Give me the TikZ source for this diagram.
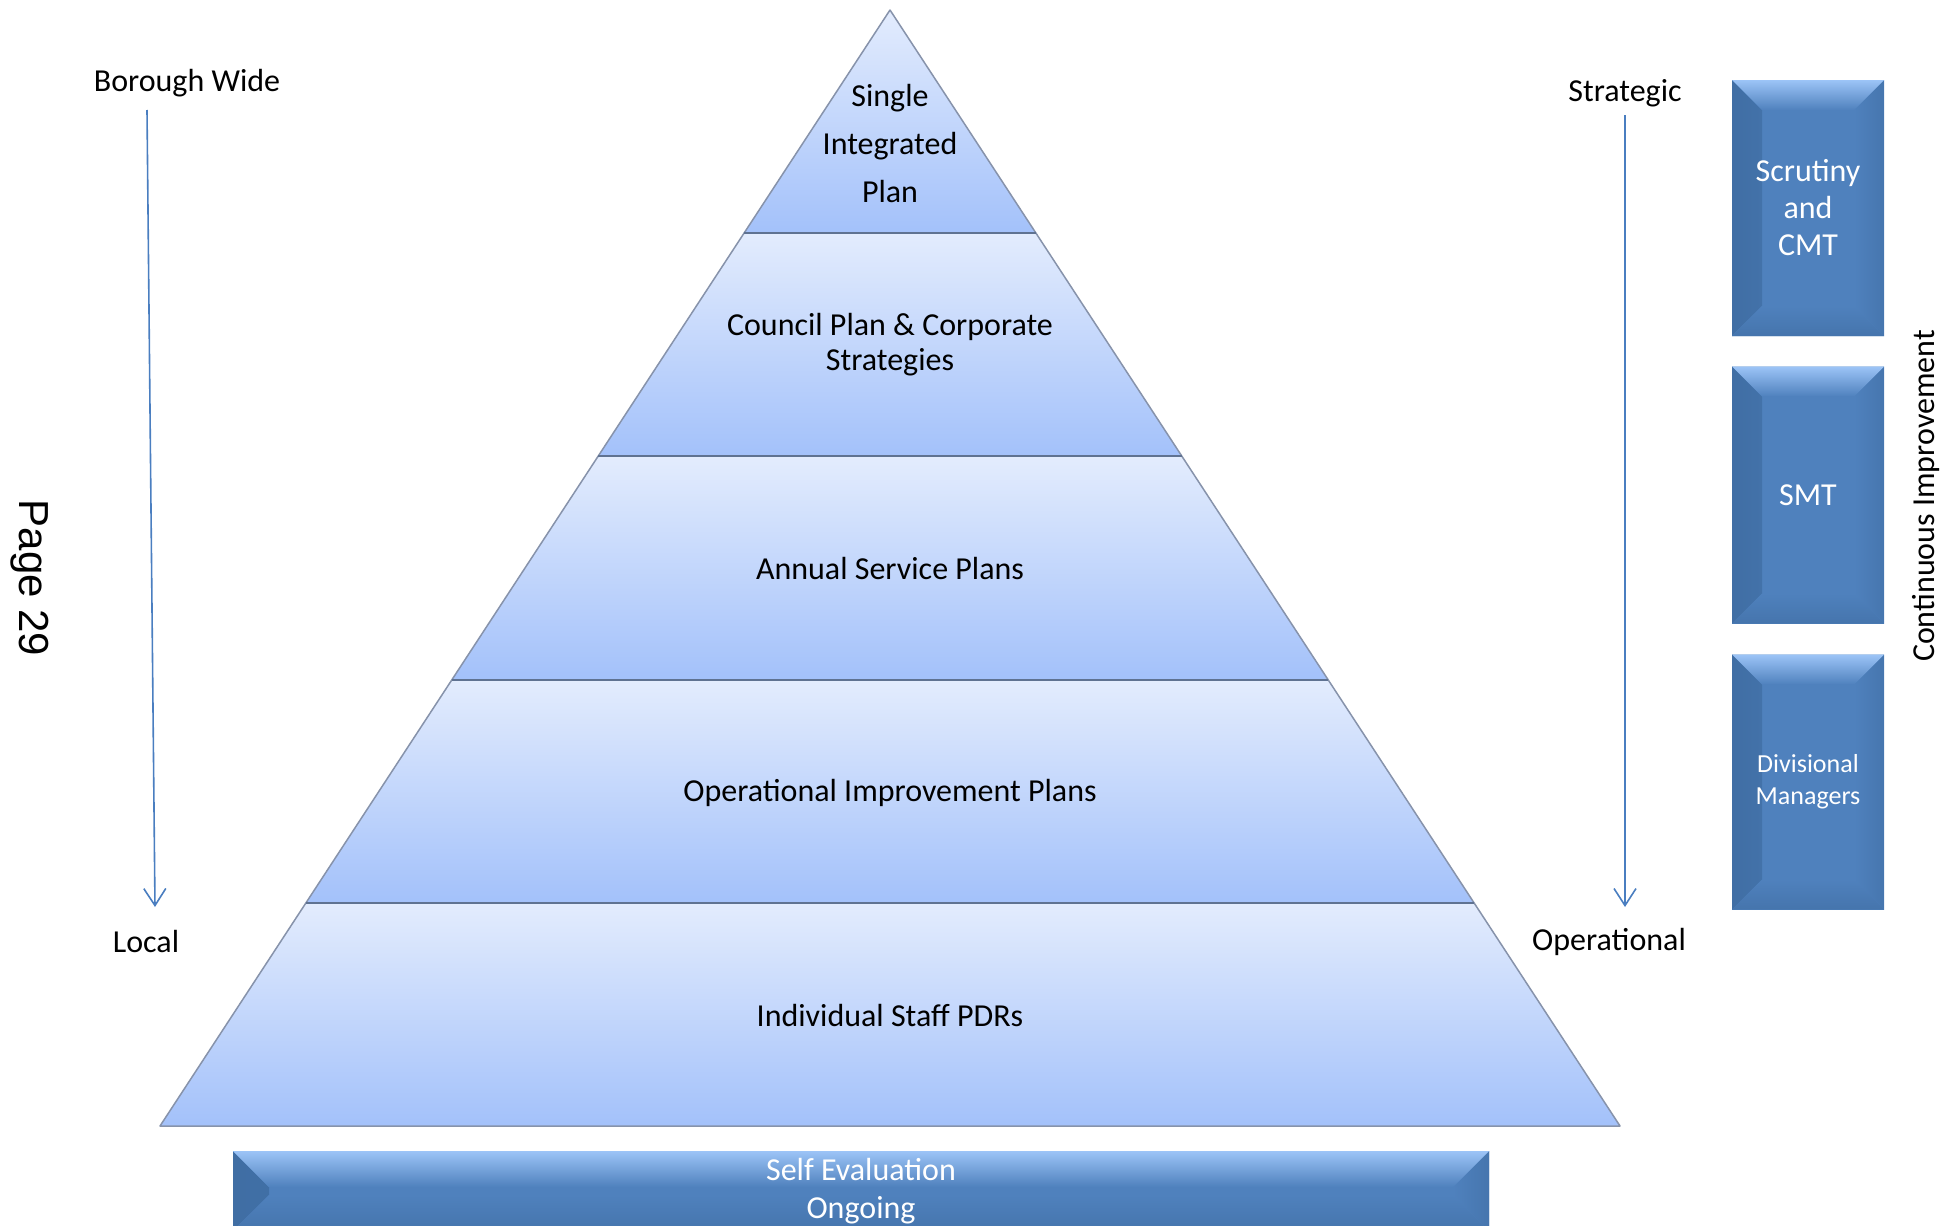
\documentclass[tikz,border=0pt]{standalone}
\usepackage{fontspec}
\setmainfont{Carlito}
\newfontfamily\pagefont{Liberation Sans}
\usetikzlibrary{
	arrows.meta,
	calc,
	}

\definecolor{bandtop}{HTML}{E3ECFD}
\definecolor{bandbottom}{HTML}{A3C1FA}
\definecolor{bandline}{HTML}{8793AB}
\definecolor{sepline}{HTML}{5F7291}
\definecolor{boxblue}{HTML}{4F81BD}
\definecolor{boxlight}{HTML}{9CC4F7}
\definecolor{boxdark}{HTML}{3B689C}
\definecolor{arrowblue}{HTML}{4A7EC0}

\tikzset{
	band/.style={top color=bandtop, bottom color=bandbottom},
	bandtext/.style={align=center, inner sep=0pt, font=\fontsize{32}{35}\selectfont},
	sidetext/.style={inner sep=0pt, font=\fontsize{32}{38}\selectfont},
	flowarrow/.style={draw=arrowblue, line width=1.6pt,
		-{Straight Barb[length=17pt, width=22pt, line width=1.6pt]}},
	bevelbox/.style={fill=boxblue, text=white, align=center, inner sep=0pt,
		font=\fontsize{32}{37}\selectfont,
		path picture={
			\fill[left color=boxdark!75!boxblue, right color=boxblue]
				(path picture bounding box.north west)
				-- ([shift={(#1pt,-#1pt)}]path picture bounding box.north west)
				-- ([shift={(#1pt,#1pt)}]path picture bounding box.south west)
				-- (path picture bounding box.south west) -- cycle;
			\fill[left color=boxblue, right color=boxdark!45!boxblue]
				(path picture bounding box.north east)
				-- ([shift={(-#1pt,-#1pt)}]path picture bounding box.north east)
				-- ([shift={(-#1pt,#1pt)}]path picture bounding box.south east)
				-- (path picture bounding box.south east) -- cycle;
			\fill[top color=boxlight, bottom color=boxblue]
				(path picture bounding box.north west)
				-- (path picture bounding box.north east)
				-- ([shift={(-#1pt,-#1pt)}]path picture bounding box.north east)
				-- ([shift={(#1pt,-#1pt)}]path picture bounding box.north west) -- cycle;
			\fill[top color=boxblue, bottom color=boxdark!50!boxblue]
				(path picture bounding box.south west)
				-- (path picture bounding box.south east)
				-- ([shift={(-#1pt,#1pt)}]path picture bounding box.south east)
				-- ([shift={(#1pt,#1pt)}]path picture bounding box.south west) -- cycle;
		}},
	bevelbox/.default=30,
}

\begin{document}
\begin{tikzpicture}[x=1pt, y=-1pt]
	\useasboundingbox (0,0) rectangle (1957,1226);
	\clip (0,0) rectangle (1957,1226);

	% pyramid
	\coordinate (apex) at (890,10);
	\coordinate (bl) at (160,1126);
	\coordinate (br) at (1620,1126);
	\foreach \a/\b in {0/0.2, 0.2/0.4, 0.4/0.6, 0.6/0.8, 0.8/1}
		\fill[band] ($(apex)!\a!(bl)$) -- ($(apex)!\b!(bl)$) -- ($(apex)!\b!(br)$) -- ($(apex)!\a!(br)$) -- cycle;
	\draw[bandline, line width=1.5pt, line join=round] (apex) -- (bl) -- (br) -- cycle;
	\foreach \t in {0.2, 0.4, 0.6, 0.8}
		\draw[sepline, line width=2.2pt] ($(apex)!\t!(bl)$) -- ($(apex)!\t!(br)$);

	\node[bandtext, font=\fontsize{32}{48}\selectfont] (sip) at (890,144) {Single\\Integrated\\Plan};
	\node[bandtext] (cpcs) at (890,345) {Council Plan \& Corporate\\Strategies};
	\node[bandtext] (asp) at (890,569) {Annual Service Plans};
	\node[bandtext] (oip) at (890,793) {Operational Improvement Plans};
	\node[bandtext] (isp) at (890,1015) {Individual Staff PDRs};

	% left and right scales
	\node[sidetext] (borough) at (187,83) {Borough Wide};
	\node[sidetext] (local) at (146,941) {Local};
	\node[sidetext] (strategic) at (1625,93) {Strategic};
	\node[sidetext] (operational) at (1609,942) {Operational};
	\coordinate (bwtop) at (147,110);
	\coordinate (bwbot) at (155,907);
	\coordinate (sttop) at (1625,115);
	\coordinate (stbot) at (1625,907);
	\draw[flowarrow] (bwtop) -- (bwbot);
	\draw[flowarrow] (sttop) -- (stbot);

	% boxes
	\node[bevelbox, minimum width=152pt, minimum height=256pt] (cmt) at (1808,208) {Scrutiny\\and\\CMT};
	\node[bevelbox, minimum width=152pt, minimum height=257pt] (smt) at (1808,495) {SMT};
	\node[bevelbox, minimum width=152pt, minimum height=255pt,
		font=\fontsize{26}{32}\selectfont] (dm) at (1808,782) {Divisional\\Managers};
	\node[bevelbox=36, minimum width=1256pt, minimum height=80pt,
		font=\fontsize{32}{38}\selectfont] (selfeval) at (861,1191) {Self Evaluation\\Ongoing};

	\node[sidetext, rotate=90] (ci) at (1926,496) {Continuous Improvement};
	\node[inner sep=0pt, rotate=-90, font=\pagefont\fontsize{42}{48}\selectfont] (page) at (30,578) {Page 29};
\end{tikzpicture}
\end{document}
